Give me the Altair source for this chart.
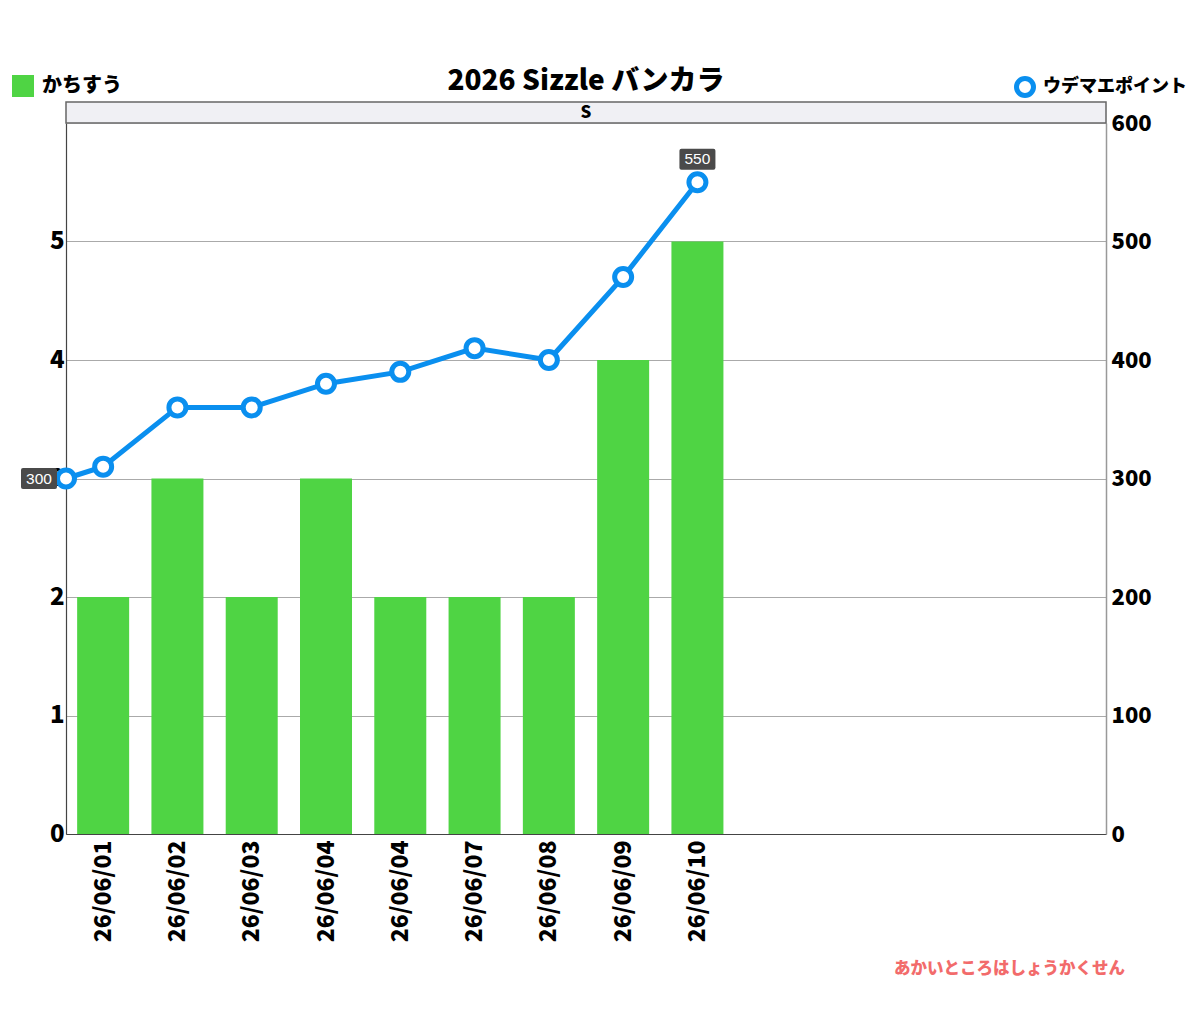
import altair as alt
import pandas as pd

# ---- data ----
dates = ["26/06/01", "26/06/02", "26/06/03", "26/06/04", "26/06/04",
         "26/06/07", "26/06/08", "26/06/09", "26/06/10"]
wins = [2, 3, 2, 3, 2, 2, 2, 4, 5]
start_point = 300
points = [310, 360, 360, 380, 390, 410, 400, 470, 550]
n_slots = 14

title_text = "2026 Sizzle バンカラ"
facet_label = "S"
bar_name = "かちすう"
line_name = "ウデマエポイント"
footer = "あかいところはしょうかくせん"

GREEN = "#4fd444"
BLUE = "#0a8fef"
FONT = "Noto Sans CJK JP"
WEIGHT = 900
W, H = 1040, 711

bar_df = pd.DataFrame({"pos": [i + 0.5 for i in range(len(dates))],
                       "date": dates, "wins": wins,
                       "series": [bar_name] * len(dates)})
line_pos = [0.0] + [i + 0.5 for i in range(len(points))]
line_vals = [start_point] + points
n_line = len(line_vals)
line_df = pd.DataFrame({"pos": line_pos, "pt": line_vals,
                        "series": [line_name] * n_line,
                        "idx": list(range(n_line))})

label_arr = "[" + ",".join("'%s'" % d for d in dates) + "]"

xscale = alt.Scale(domain=[0, n_slots], nice=False, zero=False, padding=0)
xaxis = alt.Axis(values=list(bar_df["pos"]),
                 labelExpr=label_arr + "[floor(datum.value)]",
                 labelAngle=270, labelAlign="right", labelBaseline="middle",
                 labelFont=FONT, labelFontWeight=WEIGHT, labelFontSize=23,
                 labelColor="black", labelPadding=6,
                 ticks=False, grid=False, domainColor="#444", domainWidth=1.2,
                 title=None)

bars = alt.Chart(bar_df).mark_bar(size=52).encode(
    x=alt.X("pos:Q", scale=xscale, axis=xaxis),
    y=alt.Y("wins:Q", scale=alt.Scale(domain=[0, 6], nice=False),
            axis=alt.Axis(values=[0, 1, 2, 3, 4, 5], orient="left", title=None,
                          labelFont=FONT, labelFontWeight=WEIGHT, labelFontSize=24,
                          labelColor="black", ticks=False, labelPadding=2,
                          gridColor="#aaaaaa", gridWidth=1,
                          domainColor="#444", domainWidth=1.2)),
    fill=alt.Fill("series:N", scale=alt.Scale(domain=[bar_name], range=[GREEN]),
                  legend=alt.Legend(orient="none", legendX=-54, legendY=-48,
                                    title=None, symbolType="square",
                                    symbolSize=484, symbolStrokeWidth=0,
                                    labelFont=FONT, labelFontWeight=WEIGHT,
                                    labelFontSize=20, labelColor="black",
                                    labelOffset=8, padding=0)),
)

yline = alt.Y("pt:Q", scale=alt.Scale(domain=[0, 600], nice=False),
              axis=alt.Axis(values=[0, 100, 200, 300, 400, 500, 600], orient="right",
                            title=None, labelFont=FONT, labelFontWeight=WEIGHT,
                            labelFontSize=22, labelColor="black", ticks=False,
                            labelPadding=5, grid=False,
                            domainColor="#999999", domainWidth=1.5))

stroke_enc = alt.Stroke("series:N", scale=alt.Scale(domain=[line_name], range=[BLUE]),
                        legend=alt.Legend(orient="none", legendX=948, legendY=-47,
                                          title=None, symbolType="circle",
                                          symbolSize=289, symbolStrokeWidth=5,
                                          symbolFillColor="white",
                                          labelFont=FONT, labelFontWeight=WEIGHT,
                                          labelFontSize=18, labelColor="black",
                                          labelOffset=7, padding=0))

base = alt.Chart(line_df).encode(x=alt.X("pos:Q", scale=xscale), y=yline)
line = base.mark_line(strokeWidth=5).encode(stroke=stroke_enc)
pts = base.mark_point(size=289, filled=True, fill="white", strokeWidth=5,
                      opacity=1).encode(stroke=stroke_enc)

BOX = ("M-1.6,-1.05 L1.6,-1.05 Q1.8,-1.05 1.8,-0.85 L1.8,0.85 Q1.8,1.05 1.6,1.05 "
       "L-1.6,1.05 Q-1.8,1.05 -1.8,0.85 L-1.8,-0.85 Q-1.8,-1.05 -1.6,-1.05 Z")
first = base.transform_filter("datum.idx == 0")
last = base.transform_filter("datum.idx == %d" % (n_line - 1))
box1 = first.mark_point(shape=BOX, size=400, filled=True, color="#4a4a4a",
                        opacity=1, xOffset=-27)
txt1 = first.mark_text(color="white", fontSize=15.5, font="Helvetica",
                       xOffset=-27).encode(text="pt:Q")
box2 = last.mark_point(shape=BOX, size=400, filled=True, color="#4a4a4a",
                       opacity=1, yOffset=-23)
txt2 = last.mark_text(color="white", fontSize=15.5, font="Helvetica",
                      yOffset=-23).encode(text="pt:Q")

line_layer = alt.layer(line, pts, box1, txt1, box2, txt2)

one = pd.DataFrame({"k": [0]})
strip = alt.Chart(one).mark_rect(fill="#f0f0f4", stroke="#666666", strokeWidth=1.5).encode(
    x=alt.value(0), x2=alt.value(W), y=alt.value(-21), y2=alt.value(0))
strip_txt = alt.Chart(one).mark_text(font=FONT, fontWeight=WEIGHT, fontSize=17,
                                     baseline="middle").encode(
    x=alt.value(W / 2), y=alt.value(-10.5), text=alt.value(facet_label))
foot = alt.Chart(one).mark_text(font=FONT, fontWeight=WEIGHT, fontSize=16.5,
                                color="#f26b6b", align="right",
                                baseline="middle").encode(
    x=alt.value(1059), y=alt.value(846), text=alt.value(footer))

chart = alt.layer(bars, line_layer, strip, strip_txt, foot).resolve_scale(
    y="independent", fill="independent", stroke="independent"
).properties(
    width=W, height=H,
    title=alt.TitleParams(title_text, anchor="middle", font=FONT, fontWeight=WEIGHT,
                          fontSize=28, color="black", offset=-21),
    autosize=alt.AutoSizeParams(type="none"),
    padding={"left": 58, "top": 115, "right": 86, "bottom": 180},
).configure_view(stroke=None).configure(background="white")

chart.save("out.html", embed_options={"renderer": "svg", "actions": False})
